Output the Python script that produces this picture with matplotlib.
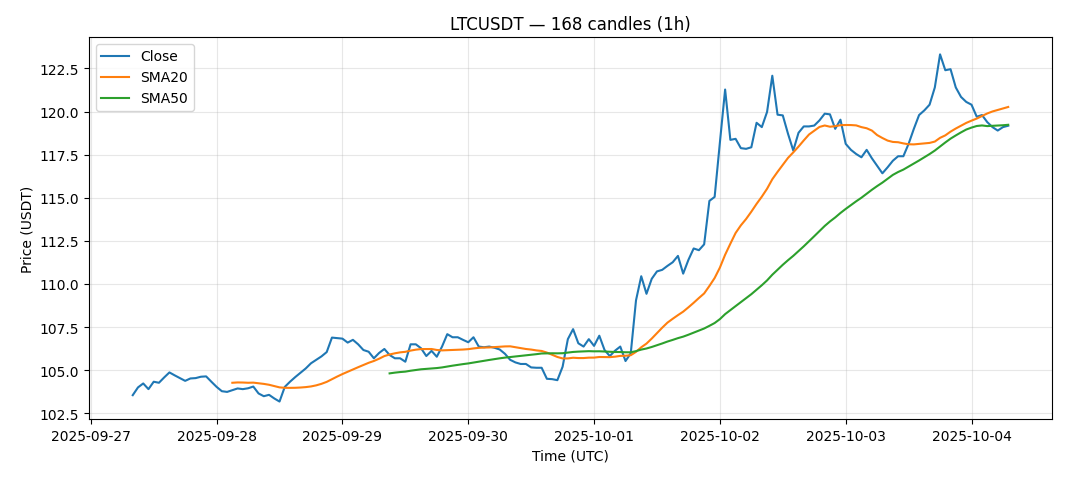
import numpy as np
import pandas as pd
import matplotlib
matplotlib.use("Agg")
import matplotlib.pyplot as plt
import matplotlib.dates as mdates

start_time = "2025-09-27 08:00"
n_candles = 168

close = [
    103.55, 104.0, 104.23, 103.9, 104.33, 104.27, 104.58, 104.87, 104.7, 104.54,
    104.38, 104.52, 104.54, 104.62, 104.64, 104.33, 104.03, 103.78, 103.74, 103.84,
    103.94, 103.9, 103.95, 104.05, 103.65, 103.49, 103.57, 103.36, 103.18, 104.03,
    104.33, 104.6, 104.85, 105.1, 105.4, 105.6, 105.8, 106.05, 106.89, 106.86,
    106.83, 106.6, 106.76, 106.5, 106.17, 106.07, 105.69, 106.0, 106.23, 105.88,
    105.69, 105.69, 105.49, 106.5, 106.5, 106.27, 105.82, 106.12, 105.78, 106.37,
    107.09, 106.91, 106.91, 106.76, 106.62, 106.91, 106.37, 106.33, 106.37, 106.3,
    106.2, 105.95, 105.6, 105.45, 105.36, 105.36, 105.16, 105.14, 105.14, 104.5,
    104.48, 104.42, 105.2, 106.8, 107.38, 106.56, 106.37, 106.8, 106.41, 107.0,
    106.17, 105.82, 106.13, 106.37, 105.53, 105.98, 109.05, 110.45, 109.43, 110.3,
    110.73, 110.82, 111.05, 111.26, 111.63, 110.6, 111.4, 112.06, 111.96, 112.3,
    114.82, 115.05, 118.2, 121.28, 118.36, 118.42, 117.88, 117.84, 117.93, 119.35,
    119.1, 119.98, 122.08, 119.82, 119.78, 118.71, 117.74, 118.77, 119.14, 119.14,
    119.19, 119.49, 119.88, 119.84, 119.0, 119.53, 118.13, 117.78, 117.54, 117.35,
    117.78, 117.29, 116.86, 116.42, 116.77, 117.15, 117.41, 117.41, 118.13, 119.0,
    119.8, 120.07, 120.4, 121.4, 123.32, 122.4, 122.46, 121.4, 120.85, 120.56,
    120.4, 119.7, 119.8, 119.39, 119.1, 118.9, 119.1, 119.18,
]

times = pd.date_range(start_time, periods=n_candles, freq="h")
s = pd.Series(close, index=times)
sma20 = s.rolling(20).mean()
sma50 = s.rolling(50).mean()

fig = plt.figure(figsize=(10.68, 4.81), dpi=100)
ax = fig.add_subplot(111)
fig.subplots_adjust(left=0.0833, right=0.985, top=0.921, bottom=0.127)

ax.plot(times, s.values, label="Close", color="#1f77b4", lw=1.5)
ax.plot(times, sma20.values, label="SMA20", color="#ff7f0e", lw=1.5)
ax.plot(times, sma50.values, label="SMA50", color="#2ca02c", lw=1.5)

ax.set_title("LTCUSDT — 168 candles (1h)")
ax.set_xlabel("Time (UTC)")
ax.set_ylabel("Price (USDT)")
ax.grid(True, alpha=0.3)
ax.legend(loc="upper left")
ax.xaxis.set_major_locator(mdates.DayLocator())
ax.xaxis.set_major_formatter(mdates.DateFormatter("%Y-%m-%d"))

fig.savefig("out.png", dpi=100)
